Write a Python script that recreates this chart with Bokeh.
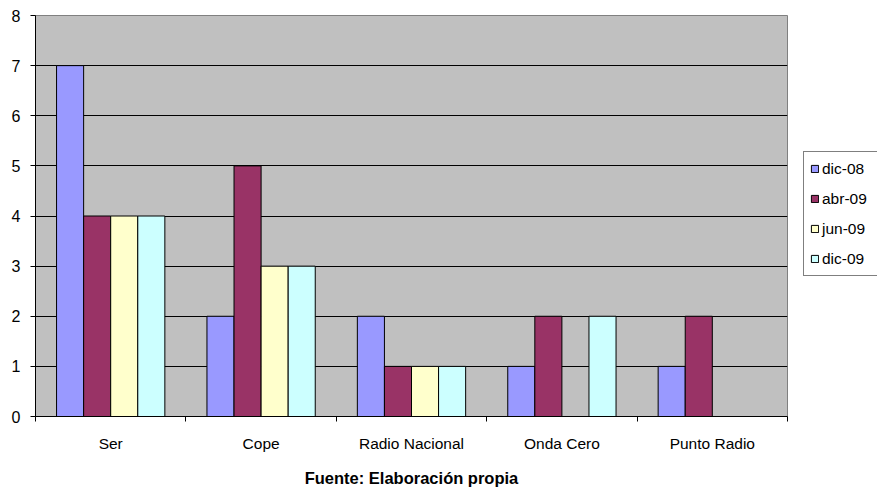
from bokeh.plotting import figure
from bokeh.models import FixedTicker, Legend, LegendItem, Range1d
from bokeh.layouts import row
from bokeh.embed import file_html
from bokeh.resources import INLINE
import numpy as np

# Emisoras y recuento por periodo
emisoras = ["Ser", "Cope", "Radio Nacional", "Onda Cero", "Punto Radio"]
periodos = ["dic-08", "abr-09", "jun-09", "dic-09"]
dic_08 = [7, 2, 2, 1, 1]
abr_09 = [4, 5, 1, 2, 2]
jun_09 = [4, 3, 1, 0, 0]
dic_09 = [4, 3, 1, 2, 0]
y_ticks = [0, 1, 2, 3, 4, 5, 6, 7, 8]

series = [dic_08, abr_09, jun_09, dic_09]
colores = ["#9999FF", "#993366", "#FFFFCC", "#CCFFFF"]

FONT = "Liberation Sans, Arial, sans-serif"

p = figure(width=788, height=495, output_backend="svg", toolbar_location=None,
           x_range=Range1d(0, len(emisoras)), y_range=Range1d(0, 8),
           min_border_left=35, min_border_right=1, min_border_top=15,
           min_border_bottom=79)
p.background_fill_color = "#C0C0C0"
p.border_fill_color = "white"
p.outline_line_color = "#808080"
p.outline_line_width = 1

bar_w = 0.18
centros = np.arange(len(emisoras)) + 0.5
for i, (vals, col) in enumerate(zip(series, colores)):
    off = (i - 1.5) * bar_w
    p.vbar(x=centros + off, top=vals, bottom=0, width=bar_w,
           fill_color=col, line_color="black", line_width=1)

# Eje X: etiquetas en el centro de cada grupo, marcas entre grupos
p.xaxis.ticker = FixedTicker(ticks=list(centros),
                             minor_ticks=list(range(len(emisoras) + 1)))
p.xaxis.major_label_overrides = {float(c): n for c, n in zip(centros, emisoras)}
p.xaxis.major_tick_in = 0
p.xaxis.major_tick_out = 0
p.xaxis.minor_tick_in = 0
p.xaxis.minor_tick_out = 5
p.xaxis.minor_tick_line_color = "black"
p.xaxis.axis_line_color = "black"
p.xaxis.major_label_standoff = 13
p.xaxis.major_label_text_font = FONT
p.xaxis.major_label_text_font_size = "15.5px"
p.xaxis.major_label_text_color = "black"
p.xaxis.axis_label = "Fuente: Elaboración propia"
p.xaxis.axis_label_text_font = FONT
p.xaxis.axis_label_text_font_style = "bold"
p.xaxis.axis_label_text_font_size = "16.5px"
p.xaxis.axis_label_text_color = "black"
p.xaxis.axis_label_standoff = 14

# Eje Y
p.yaxis.ticker = FixedTicker(ticks=y_ticks, minor_ticks=[])
p.yaxis.major_tick_in = 0
p.yaxis.major_tick_out = 5
p.yaxis.major_tick_line_color = "black"
p.yaxis.axis_line_color = "black"
p.yaxis.major_label_standoff = 10
p.yaxis.major_label_text_font = FONT
p.yaxis.major_label_text_font_size = "16px"
p.yaxis.major_label_text_color = "black"

p.xgrid.visible = False
p.ygrid.ticker = FixedTicker(ticks=y_ticks[1:-1], minor_ticks=[])
p.ygrid.grid_line_color = "black"
p.ygrid.grid_line_width = 1

# Panel lateral con la leyenda (las muestras quedan fuera de su rango visible)
lg = figure(width=89, height=495, output_backend="svg", toolbar_location=None,
            x_range=Range1d(0, 1), y_range=Range1d(0, 1),
            x_axis_location=None, y_axis_location=None,
            min_border=0)
lg.outline_line_color = None
lg.background_fill_color = "white"
lg.border_fill_color = "white"
lg.xgrid.visible = False
lg.ygrid.visible = False
muestras = [lg.vbar(x=[5], top=[5], bottom=[4], width=0.1, fill_color=col,
                    line_color="black", line_width=1) for col in colores]

legend = Legend(items=[LegendItem(label=n, renderers=[r]) for n, r in zip(periodos, muestras)],
                location=(15, 140))
legend.border_line_color = "black"
legend.border_line_width = 1
legend.background_fill_color = "white"
legend.background_fill_alpha = 1
legend.label_text_font = FONT
legend.label_text_font_size = "15.5px"
legend.label_text_color = "black"
legend.glyph_width = 9
legend.glyph_height = 9
legend.label_standoff = 3
legend.label_height = 21
legend.label_width = 51
legend.spacing = 9
legend.padding = 6
legend.margin = 0
lg.add_layout(legend)

layout = row(p, lg, spacing=0)
open("out.html", "w").write(file_html(layout, INLINE))
